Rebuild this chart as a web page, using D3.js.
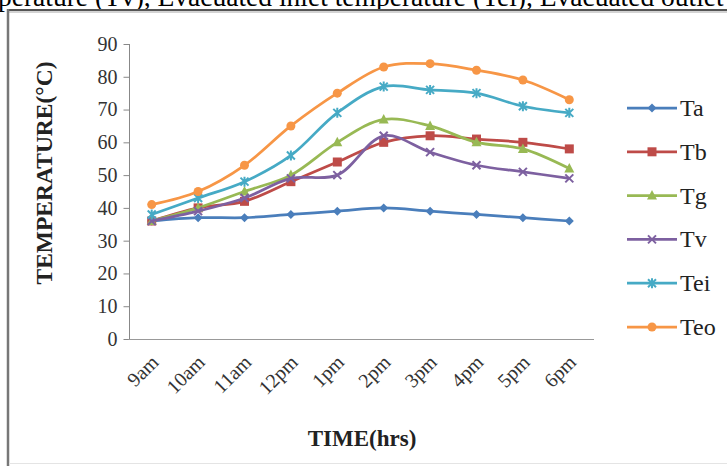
<!DOCTYPE html>
<html><head><meta charset="utf-8">
<script src="https://cdn.jsdelivr.net/npm/d3@7"></script>
<style>
html,body{margin:0;padding:0;background:#fff;overflow:hidden;}
svg{display:block;}
</style></head>
<body>
<svg id="chart" width="727" height="466"></svg>
<script>
const categories = ["9am","10am","11am","12pm","1pm","2pm","3pm","4pm","5pm","6pm"];
const Ta  = [36,37,37,38,39,40,39,38,37,36];
const Tb  = [36,40,42,48,54,60,62,61,60,58];
const Tg  = [36,40,45,50,60,67,65,60,58,52];
const Tv  = [36,39,43,49,50,62,57,53,51,49];
const Tei = [38,43,48,56,69,77,76,75,71,69];
const Teo = [41,45,53,65,75,83,84,82,79,73];
const seriesNames = ["Ta","Tb","Tg","Tv","Tei","Teo"];
const yTicks = [0,10,20,30,40,50,60,70,80,90];
const captionText = "perature (Tv), Evacuated inlet temperature (Tei), Evacuated outlet temperature (Teo)";

const seriesData = [Ta,Tb,Tg,Tv,Tei,Teo];
const colors = ["#4a7ebb","#be4b48","#98b954","#7d60a0","#46aac5","#f79646"];
const markers = ["diamond","square","triangle","x","star","circle"];

const svg = d3.select("#chart");
const serif = "'Liberation Serif','Times New Roman',serif";

// caption (clipped at top)
svg.append("text").attr("x",-2).attr("y",6).attr("font-family",serif)
  .attr("font-size",27.5).attr("fill","#000").text(captionText);

// frame
svg.append("rect").attr("x",8).attr("y",10).attr("width",740).attr("height",453)
  .attr("fill","#fff").attr("stroke","none");
svg.append("line").attr("x1",8).attr("x2",727).attr("y1",10).attr("y2",10)
  .attr("stroke","#555").attr("stroke-width",2);
svg.append("line").attr("x1",8).attr("x2",727).attr("y1",12).attr("y2",12)
  .attr("stroke","#c4c4c4").attr("stroke-width",1.5);
svg.append("line").attr("x1",8).attr("x2",8).attr("y1",9).attr("y2",466)
  .attr("stroke","#777").attr("stroke-width",2.5);
svg.append("line").attr("x1",9).attr("x2",727).attr("y1",463.5).attr("y2",463.5)
  .attr("stroke","#e4e4e4").attr("stroke-width",1);

const x = d3.scaleBand().domain(categories).range([128.5,592.5]);
const y = d3.scaleLinear().domain([0,90]).range([339,44]);
const cx = d => x(d) + x.bandwidth()/2;

// y axis
const yAxis = d3.axisLeft(y).tickValues(yTicks).tickSize(6).tickPadding(6);
const gy = svg.append("g").attr("transform","translate(129.5,0)").call(yAxis);
gy.select(".domain").attr("stroke","#888").attr("d","M0,44V339");
gy.selectAll(".tick line").attr("stroke","#888");
gy.selectAll(".tick text").attr("font-family",serif).attr("font-size",20).attr("fill","#333");

// x axis
const xAxis = d3.axisBottom(x).tickSize(0).tickPadding(0);
const gx = svg.append("g").attr("transform","translate(0,339.5)").call(xAxis);
gx.select(".domain").attr("stroke","#999").attr("stroke-width",1.2).attr("d","M128.5,0H594");
gx.selectAll(".tick text").attr("font-family",serif).attr("font-size",20).attr("fill","#333")
  .attr("text-anchor","end").attr("dy",0).attr("y",0)
  .attr("transform","translate(8,24) rotate(-45)");

// axis titles
svg.append("text").attr("transform","translate(52,173) rotate(-90)")
  .attr("text-anchor","middle").attr("font-family",serif).attr("font-weight","bold")
  .attr("font-size",23.5).attr("fill","#222").text("TEMPERATURE(°C)");
svg.append("text").attr("x",362).attr("y",446).attr("text-anchor","middle")
  .attr("font-family",serif).attr("font-weight","bold").attr("font-size",23)
  .attr("fill","#222").text("TIME(hrs)");

const line = d3.line().x((d,i)=>cx(categories[i])).y(d=>y(d)).curve(d3.curveCatmullRom.alpha(0.5));

function drawMarker(g, type, color, px, py){
  const s = 4.5;
  if(type==="diamond"){
    g.append("path").attr("d",`M${px},${py-s}L${px+s},${py}L${px},${py+s}L${px-s},${py}Z`).attr("fill",color);
  } else if(type==="square"){
    g.append("rect").attr("x",px-4.5).attr("y",py-4.5).attr("width",9).attr("height",9).attr("fill",color);
  } else if(type==="triangle"){
    g.append("path").attr("d",`M${px},${py-5.5}L${px+5},${py+4}L${px-5},${py+4}Z`).attr("fill",color);
  } else if(type==="x"){
    g.append("path").attr("d",`M${px-4},${py-4}L${px+4},${py+4}M${px-4},${py+4}L${px+4},${py-4}`)
      .attr("stroke",color).attr("stroke-width",2);
  } else if(type==="star"){
    g.append("path").attr("d",`M${px-4},${py-4}L${px+4},${py+4}M${px-4},${py+4}L${px+4},${py-4}M${px},${py-5}L${px},${py+5}`)
      .attr("stroke",color).attr("stroke-width",2);
  } else {
    g.append("circle").attr("cx",px).attr("cy",py).attr("r",4.5).attr("fill",color);
  }
}

seriesData.forEach((vals,si)=>{
  const g = svg.append("g");
  g.append("path").datum(vals).attr("d",line).attr("fill","none")
    .attr("stroke",colors[si]).attr("stroke-width",2.75);
  vals.forEach((v,i)=>drawMarker(g, markers[si], colors[si], cx(categories[i]), y(v)));
});

// legend
const legY = d3.scalePoint().domain(seriesNames).range([108,327]);
seriesNames.forEach((n,si)=>{
  const ly = legY(n);
  const g = svg.append("g");
  g.append("line").attr("x1",627).attr("x2",677).attr("y1",ly).attr("y2",ly)
    .attr("stroke",colors[si]).attr("stroke-width",2.75);
  drawMarker(g, markers[si], colors[si], 652, ly);
  g.append("text").attr("x",680).attr("y",ly+8).attr("font-family",serif)
    .attr("font-size",24).attr("fill","#222").text(n);
});
</script>
</body></html>
